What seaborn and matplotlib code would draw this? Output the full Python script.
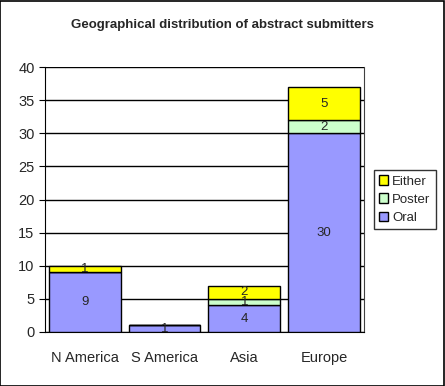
"""Geographical distribution of abstract submitters"""
import numpy as np
import pandas as pd
import seaborn as sns
from matplotlib import pyplot as plt
from matplotlib.patches import Rectangle

regions = ["N America", "S America", "Asia", "Europe"]
oral = [9, 1, 4, 30]
poster = [0, 0, 1, 2]
either = [1, 0, 2, 5]

sns.set_style("white")
plt.rcParams["font.family"] = ["Liberation Sans", "DejaVu Sans"]

fig = plt.figure(figsize=(4.45, 3.86), dpi=100)
fig.patch.set_facecolor("white")
fig.add_artist(Rectangle((0.001, 0.001), 0.997, 0.997, transform=fig.transFigure,
                         fill=False, edgecolor="black", linewidth=1.2))
ax = fig.add_axes([0.101, 0.140, 0.717, 0.686])

layers = [("Oral", oral, "#9999FF"), ("Poster", poster, "#CCFFCC"), ("Either", either, "#FFFF00")]
bottom = np.zeros(len(regions))
for name, vals, color in layers:
    df = pd.DataFrame({"Region": regions, "Count": vals})
    sns.barplot(x="Region", y="Count", data=df, color=color, saturation=1,
                bottom=bottom, width=0.9, edgecolor="black", linewidth=1,
                label=name, ax=ax, zorder=3)
    for i, v in enumerate(vals):
        if v > 0:
            ax.text(i, bottom[i] + v / 2, str(v), ha="center", va="center",
                    fontsize=9.5, zorder=4)
    bottom = bottom + np.array(vals)

ax.set_ylim(0, 40)
ax.set_xlim(-0.5, 3.5)
ax.set_yticks(range(0, 41, 5))
ax.yaxis.grid(True, color="black", linewidth=1, zorder=0)
ax.set_xlabel("")
ax.set_ylabel("")
for side in ["right", "left", "bottom"]:
    ax.spines[side].set_visible(True)
    ax.spines[side].set_color("black")
ax.spines["top"].set_visible(False)
ax.spines["right"].set_color("#404040")
ax.tick_params(axis="both", labelsize=10.5, length=4, direction="out", color="black",
               left=True, bottom=True)
ax.set_xticks([-0.5, 0.5, 1.5, 2.5, 3.5], minor=True)
ax.tick_params(axis="x", which="major", length=0, pad=14)
ax.tick_params(axis="x", which="minor", length=4)

handles, labels = ax.get_legend_handles_labels()
leg = ax.legend(handles[::-1], labels[::-1], loc="center left",
                bbox_to_anchor=(1.01, 0.5), frameon=True, fancybox=False,
                edgecolor="black", fontsize=9.5, handlelength=0.7, handleheight=0.7,
                handletextpad=0.3, borderpad=0.4, labelspacing=0.45)
leg.get_frame().set_linewidth(1)

fig.text(0.5, 0.935, "Geographical distribution of abstract submitters",
         ha="center", va="center", fontsize=9.5, fontweight="bold")

fig.savefig("out.png", dpi=100)
